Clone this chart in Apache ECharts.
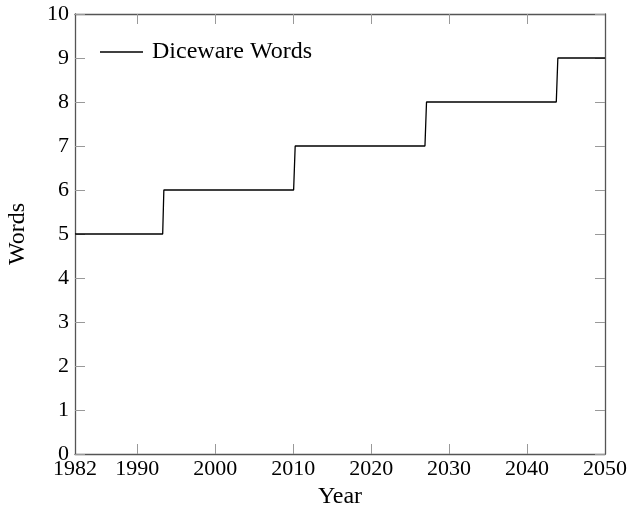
<!DOCTYPE html>
<html>
<head>
<meta charset="utf-8">
<script src="https://cdn.jsdelivr.net/npm/echarts@6/dist/echarts.min.js"></script>
<style>
html,body{margin:0;padding:0;background:#fff;}
#chart{width:630px;height:515px;}
</style>
</head>
<body>
<div id="chart"></div>
<script>
// Data
const seriesName = 'Diceware Words';
const years = [1982, 1993.25, 1993.4, 2010.05, 2010.25, 2026.9, 2027.1, 2043.75, 2043.95, 2050];
const words = [5, 5, 6, 6, 7, 7, 8, 8, 9, 9];
const xTickLabels = [1982, 1990, 2000, 2010, 2020, 2030, 2040, 2050];
const xTicks = [1990, 2000, 2010, 2020, 2030, 2040];
const yTicks = [0, 1, 2, 3, 4, 5, 6, 7, 8, 9, 10];

const FONT = 'Liberation Serif';
const AXIS_COLOR = '#555';
const TICK_COLOR = '#999';

const chart = echarts.init(document.getElementById('chart'), null, {renderer: 'canvas'});

const baseX = {
  type: 'value', min: 1982, max: 2050,
  axisLine: {show: true, onZero: false, lineStyle: {color: AXIS_COLOR, width: 1.3}},
  splitLine: {show: false}
};
const baseY = {
  type: 'value', min: 0, max: 10, interval: 1,
  axisLine: {show: true, onZero: false, lineStyle: {color: AXIS_COLOR, width: 1.3}},
  splitLine: {show: false}
};

chart.setOption({
  animation: false,
  grid: {left: 75, right: 25, top: 14, bottom: 61, containLabel: false, outerBoundsMode: 'none'},
  legend: {
    data: [{name: seriesName, icon: 'rect', itemStyle: {color: '#000'}}],
    left: 95, top: 35,
    itemWidth: 43, itemHeight: 1.3,
    textStyle: {fontFamily: FONT, fontSize: 24, color: '#000', padding: [0, 0, 0, 4]}
  },
  xAxis: [
    Object.assign({}, baseX, {
      position: 'bottom',
      name: 'Year', nameLocation: 'middle', nameGap: 30,
      nameTextStyle: {fontFamily: FONT, fontSize: 24, color: '#000'},
      axisTick: {show: true, inside: true, length: 10, customValues: xTicks, lineStyle: {color: TICK_COLOR}},
      axisLabel: {show: true, customValues: xTickLabels, fontFamily: FONT, fontSize: 22, color: '#000', margin: 4,
        showMinLabel: true, showMaxLabel: true, formatter: v => String(v)}
    }),
    Object.assign({}, baseX, {
      position: 'top',
      axisTick: {show: true, inside: true, length: 10, customValues: xTicks, lineStyle: {color: TICK_COLOR}},
      axisLabel: {show: false}
    })
  ],
  yAxis: [
    Object.assign({}, baseY, {
      position: 'left',
      name: 'Words', nameLocation: 'middle', nameGap: 45, nameRotate: 90,
      nameTextStyle: {fontFamily: FONT, fontSize: 24, color: '#000'},
      axisTick: {show: true, inside: true, length: 10, lineStyle: {color: TICK_COLOR}},
      axisLabel: {show: true, fontFamily: FONT, fontSize: 22, color: '#000', margin: 6,
        formatter: v => yTicks.includes(v) ? String(v) : ''}
    }),
    Object.assign({}, baseY, {
      position: 'right',
      axisTick: {show: true, inside: true, length: 10, lineStyle: {color: TICK_COLOR}},
      axisLabel: {show: false}
    })
  ],
  series: [{
    name: seriesName,
    type: 'line',
    xAxisIndex: 0, yAxisIndex: 0,
    data: years.map((y, i) => [y, words[i]]),
    symbol: 'none',
    lineStyle: {color: '#000', width: 1.3},
    itemStyle: {color: '#000'}
  }]
});
</script>
</body>
</html>
